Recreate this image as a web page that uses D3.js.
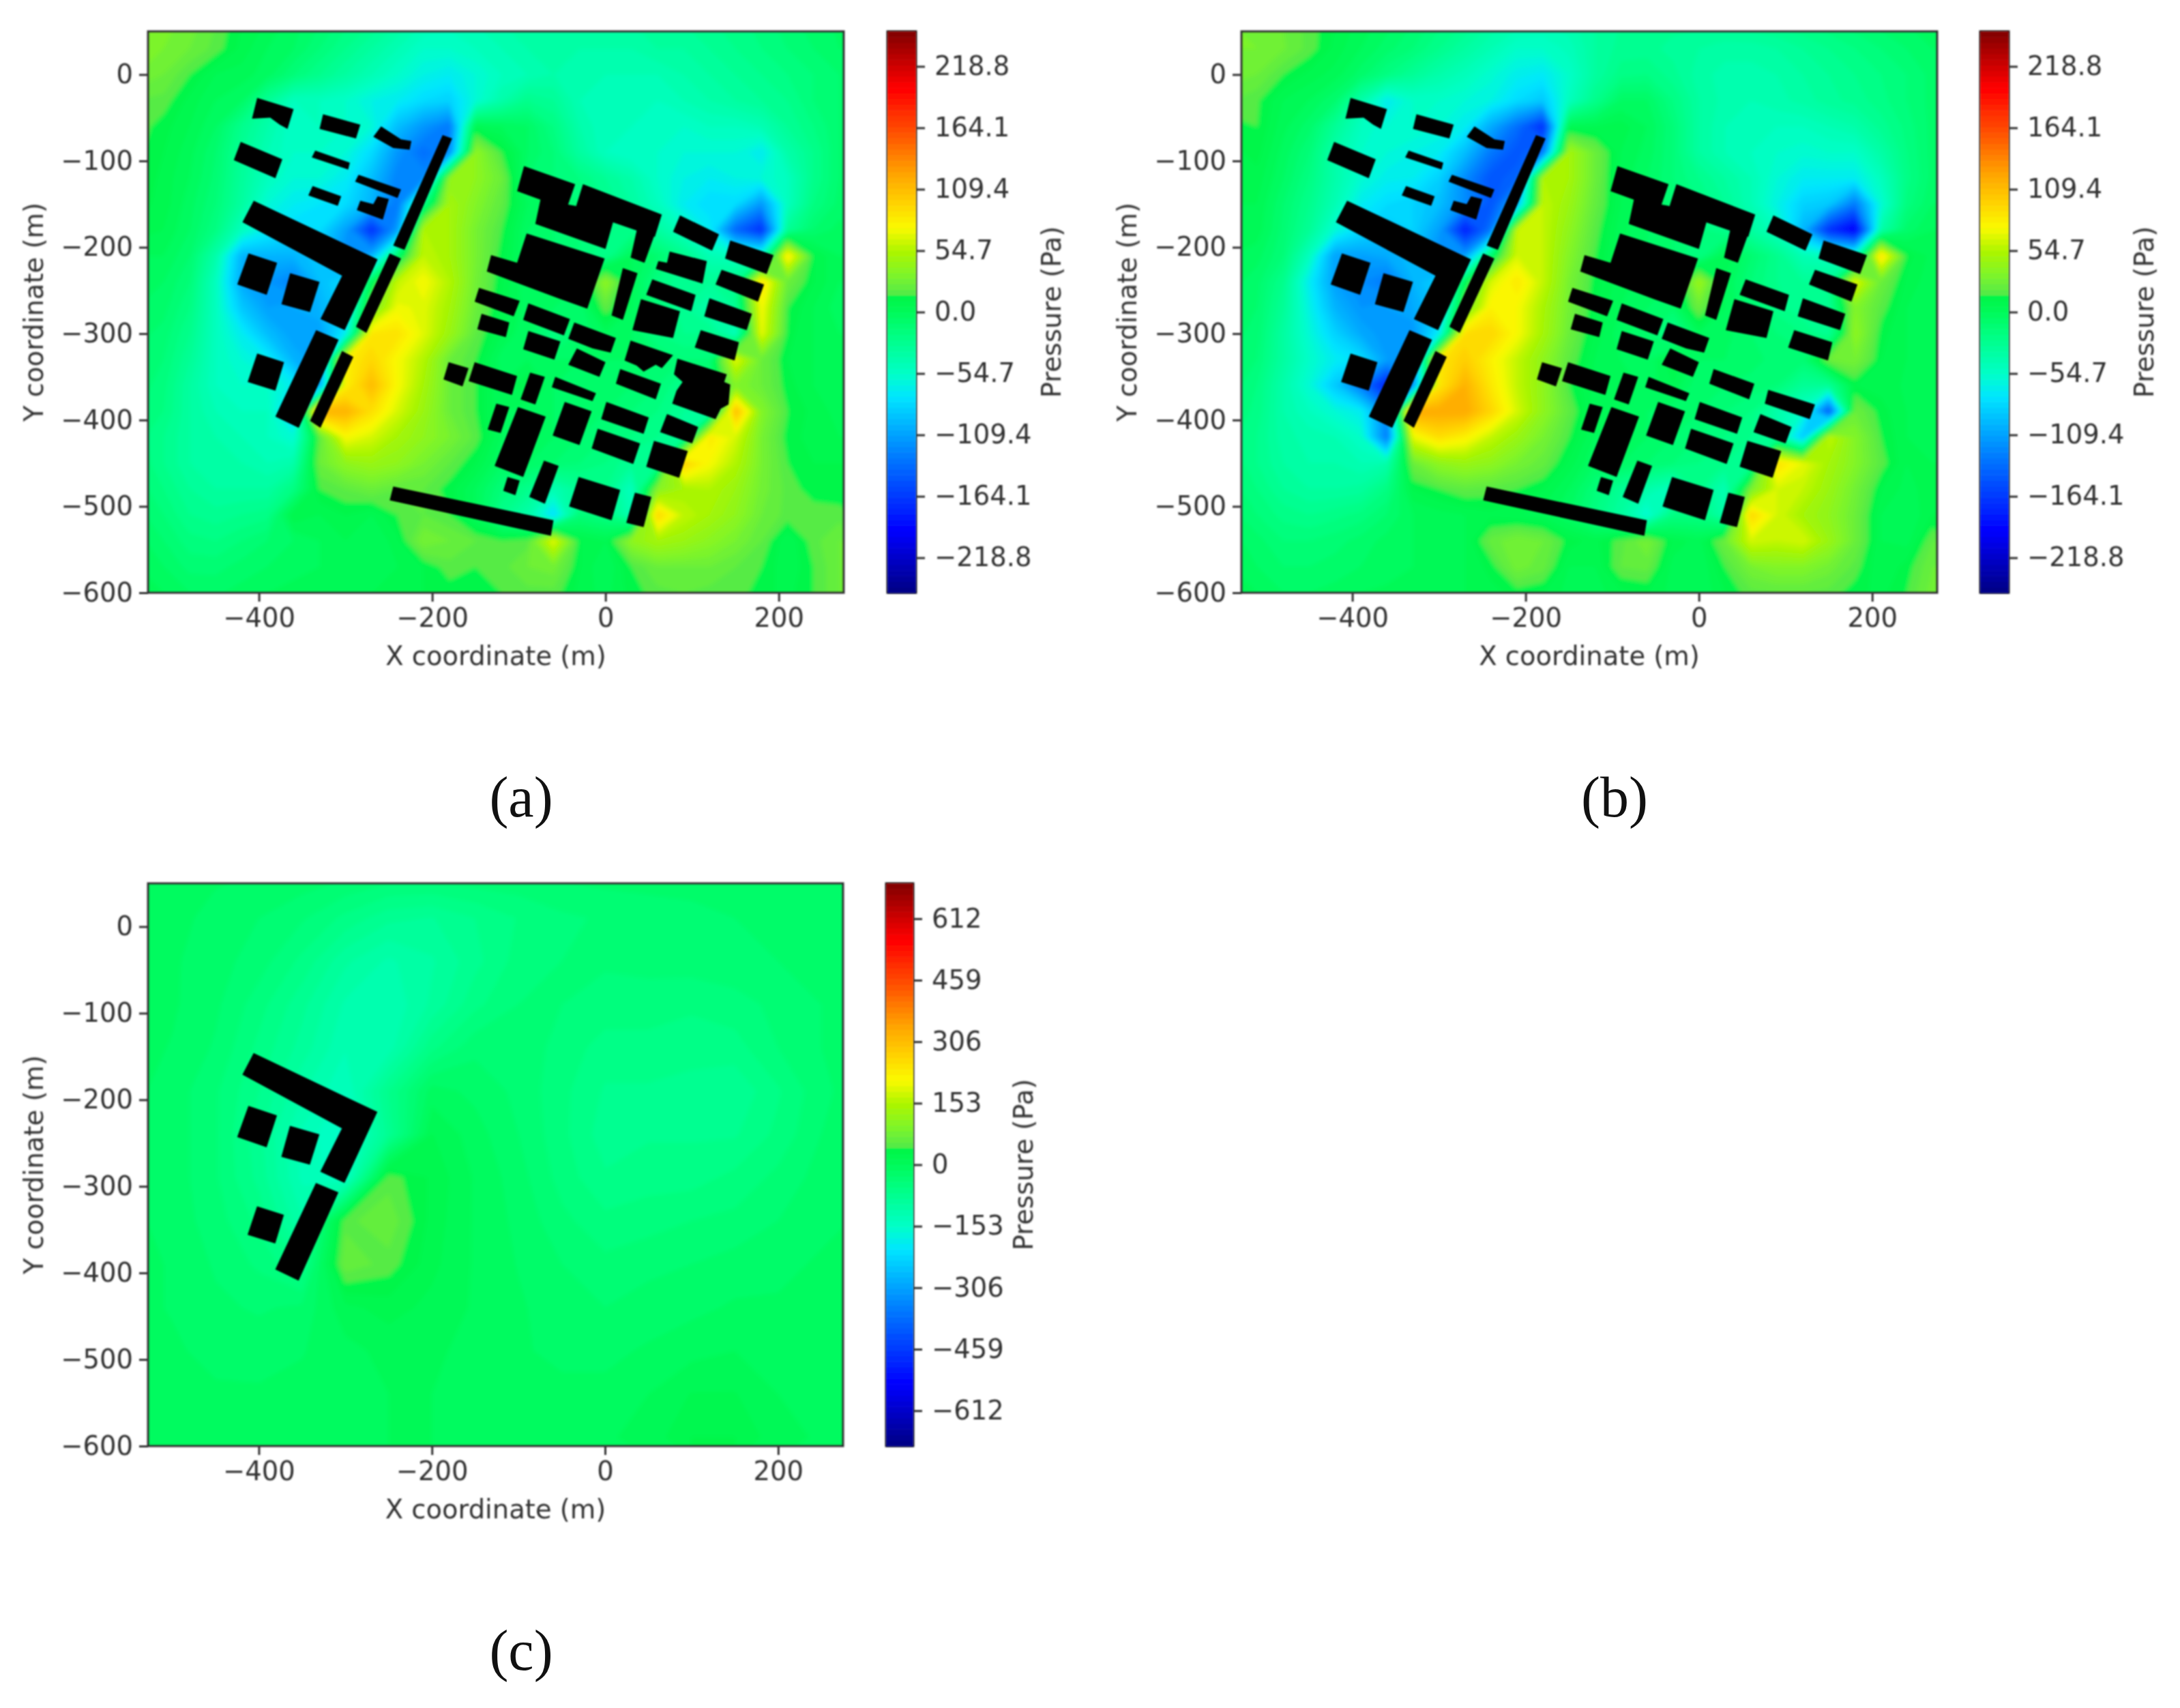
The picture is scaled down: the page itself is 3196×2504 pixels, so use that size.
<!DOCTYPE html>
<html><head><meta charset="utf-8">
<script src="https://d3js.org/d3.v7.min.js"></script>
<style>html,body{margin:0;padding:0;background:#fff}svg{display:block}</style>
</head><body><div id="chart"></div>
<script>
// ---- tick labels and ranges ----
const xTicks=[-400,-200,0,200], yTicks=[0,-100,-200,-300,-400,-500,-600];
const xDomain=[-528,275], yDomain=[-600,50];
const cbTicksAB=[218.8,164.1,109.4,54.7,0,-54.7,-109.4,-164.1,-218.8];
const cbTicksC=[612,459,306,153,0,-153,-306,-459,-612];
const captions=["(a)","(b)","(c)"];
// ---- colour stops (Pa at +/-250 scale) ----
const cmapVals=[-250,-195,-130,-75,-55,-20,0,15,17,35,55,75,100,125,160,200,250];
const cmapCols=["#000082","#0000ff","#0078ff","#00e6ff","#00ffc8","#00ff82","#00fa5a","#00f546","#55eb46","#82f528","#aff500","#fafa00","#ffcd00","#ffa000","#ff5000","#ff0000","#800000"];
// ---- pressure grids: columns every 30 m from x=-540, rows every 30 m from y=60 ----
const fieldA=[
[32,32,28,20,10,4,-3,-10,-18,-25,-35,-45,-48,-45,-40,-35,-35,-35,-35,-35,-32,-30,-26,-22,-18,-12,-8,-4],
[35,30,25,18,8,0,-5,-15,-25,-35,-45,-55,-55,-50,-45,-40,-40,-40,-40,-40,-35,-35,-30,-25,-20,-15,-10,-5],
[30,25,15,5,3,-3,-15,-25,-35,-45,-55,-65,-70,-60,-50,-45,-40,-45,-45,-45,-45,-40,-35,-30,-25,-20,-15,-10],
[20,18,8,0,-5,-30,-50,-50,-55,-65,-70,-80,-85,-60,-40,-25,-30,-45,-50,-50,-50,-45,-40,-35,-30,-25,-15,-10],
[18,12,5,-5,-25,-40,-55,-50,-55,-60,-95,-115,-130,5,0,-5,-20,-40,-50,-50,-55,-55,-50,-50,-45,-30,-20,-10],
[16,10,2,-10,-30,-45,-55,-55,-60,-80,-115,-135,-120,40,15,-5,-15,-35,-50,-55,-55,-60,-60,-60,-70,-40,-25,-10],
[15,8,0,-12,-32,-50,-60,-60,-70,-95,-125,-120,40,40,25,-10,-15,-20,-30,-40,-55,-65,-70,-65,-60,-50,-25,-10],
[12,8,-3,-15,-35,-60,-70,-75,-80,-100,-130,-20,50,35,20,0,-5,-15,-25,-35,-50,-70,-80,-80,-115,-50,-20,-8],
[8,5,-5,-20,-50,-70,-80,-80,-110,-170,-110,55,50,30,15,-5,-10,-15,-20,-25,-35,-50,-70,-140,-170,-30,-10,-3],
[0,0,-10,-40,-100,-100,-100,-90,-120,-100,-10,60,50,30,12,-5,-10,-15,-25,0,-10,-25,-45,-50,-50,85,10,0],
[-3,-5,-15,-50,-105,-115,-125,-95,-80,0,60,75,55,28,10,-5,-5,-5,40,0,-20,-30,-30,-25,90,25,10,0],
[-5,-8,-20,-50,-90,-110,-105,-100,-85,30,72,68,50,25,8,-3,-5,-10,20,0,-15,-30,-40,-30,75,15,5,-3],
[-8,-12,-25,-50,-70,-95,-110,-110,-70,85,88,68,45,20,5,-5,-20,-10,0,-5,-20,-25,-25,-50,70,12,5,0],
[-10,-15,-30,-50,-60,-70,-100,-110,80,95,75,55,25,15,-3,0,-5,-5,-5,-5,-10,-15,-15,70,25,10,5,0],
[-12,-18,-35,-50,-55,-55,-70,-110,80,110,75,50,25,15,0,10,-5,-10,-10,-10,-15,-25,-10,35,25,12,5,3],
[-15,-20,-35,-45,-50,-50,-90,115,115,90,65,45,25,15,0,-3,-5,-10,-10,-15,-20,-30,-45,110,35,15,8,3],
[-18,-25,-35,-40,-45,-50,-60,20,75,65,50,40,30,18,0,-5,-5,-10,-15,-20,-25,-35,85,65,30,12,8,5],
[-15,-25,-35,-40,-40,-45,-40,25,40,45,40,30,20,10,-5,-5,-10,-15,-20,-30,-30,100,75,55,30,15,10,10],
[-12,-20,-30,-35,-35,-35,-20,15,20,25,20,20,12,0,-15,-25,-45,-30,-25,-50,35,50,55,45,28,18,12,10],
[-8,-15,-25,-28,-25,-22,10,5,10,5,15,20,15,0,-25,-40,-80,-15,-20,-45,95,60,50,40,25,18,18,18],
[-3,-10,-18,-20,-15,-10,-5,0,5,0,8,30,25,20,15,18,70,10,5,40,50,45,38,30,20,5,18,25],
[0,-5,-12,-12,-8,-5,-2,0,2,3,5,10,18,15,18,25,28,10,0,15,25,25,25,20,15,5,15,25],
[3,0,-5,-6,-3,0,2,3,5,5,8,10,12,10,15,18,18,8,3,12,18,20,18,18,12,8,15,25]];
const fieldB=[
[30,28,25,18,10,3,-3,-10,-18,-25,-35,-42,-45,-42,-35,-30,-28,-28,-28,-28,-26,-24,-20,-16,-12,-8,-5,-3],
[30,30,26,18,8,0,-8,-15,-25,-35,-45,-55,-55,-48,-35,-28,-28,-32,-35,-38,-38,-35,-30,-25,-20,-15,-10,-5],
[28,25,15,8,3,-8,-20,-30,-40,-48,-58,-68,-72,-55,-35,-22,-20,-28,-38,-42,-42,-40,-35,-30,-25,-20,-15,-8],
[20,16,5,0,-10,-40,-70,-55,-55,-60,-65,-80,-90,-50,-25,-5,-5,-20,-35,-42,-45,-42,-38,-32,-28,-22,-15,-8],
[12,15,2,-8,-30,-50,-60,-55,-60,-70,-105,-135,-170,3,5,8,0,-15,-35,-45,-50,-50,-50,-45,-40,-28,-18,-8],
[8,12,-2,-15,-40,-55,-60,-65,-70,-95,-130,-150,-130,50,25,5,-2,-15,-35,-45,-50,-55,-58,-55,-55,-38,-20,-8],
[6,8,-5,-20,-40,-58,-68,-70,-85,-120,-150,-140,55,50,25,3,-5,-15,-25,-35,-45,-60,-70,-70,-70,-50,-22,-8],
[5,5,-10,-25,-45,-70,-80,-85,-95,-120,-150,-100,60,45,22,5,-5,-12,-20,-30,-45,-65,-85,-90,-130,-60,-18,-5],
[3,3,-12,-30,-60,-80,-90,-85,-110,-180,-130,60,60,40,18,2,-5,-10,-18,-25,-35,-50,-100,-170,-200,-40,-8,0],
[0,-3,-15,-50,-110,-110,-105,-95,-120,-110,-10,65,60,35,15,2,-5,-10,-20,5,-10,-25,-45,-50,-50,90,12,3],
[-3,-8,-25,-70,-110,-120,-130,-100,-85,0,65,85,60,30,12,2,-3,-5,45,0,-15,-25,-30,-28,70,25,8,2],
[-5,-10,-30,-65,-100,-115,-110,-105,-90,30,80,75,52,28,10,0,-5,-8,25,0,-12,-22,-30,-28,35,18,5,2],
[-8,-12,-35,-60,-85,-105,-115,-115,-70,90,95,75,50,25,8,-3,-10,-25,0,-3,-10,-15,-20,-30,40,12,5,2],
[-10,-15,-35,-55,-70,-80,-110,-115,85,100,80,60,40,20,5,0,-5,10,-5,-5,-8,-12,-12,25,30,10,5,2],
[-12,-20,-40,-60,-90,-130,-180,-120,85,115,85,60,40,15,3,5,-3,5,-10,-10,-12,-15,-30,-30,10,8,4,2],
[-15,-22,-40,-50,-60,-70,-120,120,120,120,95,65,40,20,3,0,-5,-10,-10,-15,-20,-40,-55,-150,25,12,5,3],
[-18,-25,-38,-42,-45,-55,-130,70,90,80,60,45,30,15,0,-5,-5,-10,-15,-20,-25,-35,-90,60,35,15,5,3],
[-15,-25,-35,-40,-40,-45,-40,25,40,45,40,30,22,8,-5,-5,-10,-15,-20,-25,-30,90,70,50,35,18,5,5],
[-12,-20,-30,-35,-35,-33,-20,10,15,20,18,15,10,0,-15,-30,-40,-50,-25,-45,30,65,60,45,28,10,3,8],
[-8,-15,-22,-25,-22,-18,-10,0,3,5,8,5,3,-5,-20,-35,-60,-20,-20,-40,95,65,50,40,25,5,0,10],
[-3,-8,-15,-15,-12,-8,-3,0,2,5,22,30,25,12,8,18,30,8,3,25,65,60,65,45,25,5,3,20],
[0,-5,-10,-10,-8,-5,-2,0,2,5,12,28,22,5,5,20,22,3,0,15,30,35,35,28,18,5,12,25],
[2,0,-5,-5,-3,0,1,2,3,5,8,12,10,3,3,8,10,3,0,10,18,20,20,18,12,8,15,28]];
// panel (c): columns every 50 m from x=-550, rows every 50 m from y=60
const fieldC=[
[-5,-8,-12,-15,-18,-25,-32,-32,-30,-30,-25,-22,-22,-22,-18,-18,-15,-12],
[-5,-10,-18,-28,-40,-60,-80,-85,-70,-55,-45,-40,-35,-32,-28,-22,-18,-15],
[-5,-12,-22,-35,-60,-95,-115,-100,-75,-50,-42,-40,-38,-36,-32,-28,-22,-18],
[-8,-12,-25,-50,-80,-115,-125,-95,-60,-42,-42,-48,-48,-52,-48,-38,-28,-18],
[-8,-15,-30,-60,-90,-125,-120,-60,-32,-32,-48,-62,-62,-68,-62,-42,-28,-18],
[-10,-20,-40,-70,-110,-140,-70,-8,-18,-32,-52,-72,-72,-72,-82,-58,-32,-18],
[-10,-20,-40,-80,-130,-160,-80,15,-8,-28,-52,-78,-72,-72,-72,-52,-28,-18],
[-10,-20,-40,-75,-130,-150,50,25,-2,-22,-48,-68,-62,-62,-52,-38,-22,-15],
[-10,-20,-35,-60,-110,52,66,22,-2,-18,-38,-52,-48,-42,-38,-28,-18,-12],
[-10,-15,-30,-45,-70,66,50,18,-2,-15,-28,-38,-32,-28,-22,-18,-12,-10],
[-10,-15,-25,-30,-25,10,20,10,-2,-12,-22,-28,-22,-18,-12,-12,-12,-10],
[-10,-12,-18,-20,-15,-5,5,3,-5,-12,-18,-18,-12,-5,0,-8,-10,-10],
[-8,-10,-12,-12,-10,-5,0,0,-5,-10,-10,-10,0,15,15,0,-8,-10],
[-5,-8,-8,-8,-5,-3,0,0,-2,-5,-5,-2,5,28,28,5,-2,-5]];
// ---- building footprints, corners in metres ----
const westBlocks=[
[[-326,-46],[-283,-58],[-288,-74],[-330,-63]],
[[-402,-27],[-360,-40],[-367,-63],[-376,-58],[-387,-50],[-408,-51]],
[[-259,-60],[-236,-75],[-224,-77],[-226,-87],[-245,-85],[-268,-72]],
[[-429,-99],[-421,-78],[-373,-98],[-381,-120]],
[[-339,-96],[-335,-88],[-295,-102],[-297,-110]],
[[-289,-124],[-285,-116],[-236,-133],[-240,-143]],
[[-343,-140],[-338,-129],[-305,-141],[-309,-152]],
[[-283,-146],[-268,-150],[-263,-141],[-250,-144],[-257,-168],[-287,-157]],
];
const wallTop=[[-188,-70],[-177,-74],[-232,-203],[-245,-198]];
const wallMid=[[-249,-207],[-236,-213],[-276,-299],[-288,-292]];
const wallLow=[[-304,-320],[-291,-327],[-329,-409],[-341,-401]];
const courtL=[[-406,-146],[-263,-214],[-301,-296],[-329,-283],[-304,-233],[-419,-171]];
const courtSquareA=[[-412,-207],[-379,-218],[-391,-255],[-425,-243]];
const courtSquareB=[[-364,-230],[-330,-240],[-341,-275],[-374,-266]];
const courtSquareC=[[-402,-323],[-371,-333],[-381,-366],[-413,-356]];
const courtBar=[[-334,-296],[-308,-307],[-354,-409],[-381,-396]];
const eastBlocks=[
[[-94,-106],[-35,-127],[-45,-156],[-102,-135]],
[[-74,-140],[-46,-150],[-35,-152],[9,-170],[0,-202],[-81,-173]],
[[-26,-127],[65,-162],[57,-188],[-35,-156]],
[[37,-176],[59,-179],[45,-218],[29,-212]],
[[-91,-184],[-1,-213],[-21,-271],[-52,-260],[-137,-228],[-132,-209],[-102,-218]],
[[20,-224],[37,-230],[20,-284],[7,-279]],
[[86,-163],[131,-185],[123,-204],[78,-182]],
[[144,-192],[194,-209],[186,-231],[138,-213]],
[[134,-226],[183,-243],[176,-263],[127,-243]],
[[120,-259],[169,-277],[163,-296],[114,-280]],
[[110,-296],[154,-310],[149,-331],[103,-316]],
[[54,-237],[104,-255],[99,-274],[47,-255]],
[[41,-260],[86,-274],[78,-305],[31,-296]],
[[-146,-247],[-99,-262],[-106,-280],[-151,-263]],
[[-143,-277],[-111,-287],[-115,-304],[-148,-295]],
[[-89,-265],[-41,-283],[-48,-302],[-95,-284]],
[[-89,-297],[-52,-309],[-59,-330],[-95,-318]],
[[-36,-287],[12,-305],[6,-322],[-15,-317],[-43,-306]],
[[-33,-317],[0,-333],[-7,-350],[-43,-336]],
[[-181,-333],[-158,-340],[-165,-361],[-187,-353]],
[[-151,-333],[-102,-349],[-108,-371],[-158,-355]],
[[-87,-345],[-70,-350],[-81,-382],[-98,-376]],
[[-58,-350],[-11,-369],[-15,-378],[-62,-362]],
[[17,-341],[64,-358],[58,-376],[12,-358]],
[[-126,-381],[-111,-385],[-121,-415],[-136,-411]],
[[-101,-385],[-69,-396],[-95,-466],[-128,-453]],
[[-47,-379],[-16,-390],[-30,-429],[-61,-418]],
[[1,-379],[50,-397],[44,-416],[-5,-399]],
[[71,-393],[107,-408],[100,-427],[63,-414]],
[[-9,-410],[40,-427],[32,-451],[-16,-433]],
[[56,-424],[95,-436],[85,-467],[47,-454]],
[[-113,-466],[-99,-470],[-104,-487],[-118,-482]],
[[-71,-447],[-54,-453],[-70,-497],[-88,-489]],
[[-31,-466],[17,-481],[7,-516],[-42,-500]],
[[34,-484],[53,-489],[44,-524],[24,-519]],
[[-245,-477],[-60,-516],[-63,-534],[-249,-493]],
];
const onlyInA=[
[[74,-205],[117,-216],[112,-242],[58,-225],[61,-216],[71,-218]],
[[29,-308],[78,-325],[65,-340],[58,-336],[44,-344],[36,-337],[22,-331]],
[[83,-329],[140,-347],[137,-356],[144,-359],[142,-382],[133,-387],[127,-399],[77,-381],[82,-366],[89,-356],[79,-347]],
];
const onlyInB=[[[80,-365],[134,-382],[128,-399],[76,-381]]];
const courtyard=[courtL,courtSquareA,courtSquareB,courtSquareC,courtBar];
const shared=[...westBlocks,wallTop,wallMid,wallLow,...courtyard,...eastBlocks];
const buildingsA=[...shared,...onlyInA], buildingsB=[...shared,...onlyInB], buildingsC=courtyard;

const W=3196,H=2504;
const svg=d3.select("#chart").append("svg").attr("width",W).attr("height",H).attr("viewBox",`0 0 ${W} ${H}`).style("font-family","'DejaVu Sans'");
const defs=svg.append("defs");
[["blurField",3],["blurSoft",1.3],["blurText",0.8]].forEach(([id,s])=>{
  defs.append("filter").attr("id",id).attr("x","-5%").attr("y","-5%").attr("width","110%").attr("height","110%")
    .append("feGaussianBlur").attr("stdDeviation",s);
});
const ink="#333", fontSize=38.5;
const cmap=d3.scaleLinear().domain(cmapVals).range(cmapCols).interpolate(d3.interpolateRgb).clamp(true);

const panels=[
 {id:"a",field:fieldA,x0:-540,y0:60,step:30,range:250,levelStep:5,blds:buildingsA,cb:cbTicksAB,cbFmt:d3.format(".1f"),
  l:217,r:1237,t:46,b:869,cl:1301,cr:1343,labX:1544,capX:764,capY:1168},
 {id:"b",field:fieldB,x0:-540,y0:60,step:30,range:250,levelStep:5,blds:buildingsB,cb:cbTicksAB,cbFmt:d3.format(".1f"),
  l:1820,r:2840,t:46,b:869,cl:2903,cr:2945,labX:3146,capX:2367,capY:1168},
 {id:"c",field:fieldC,x0:-550,y0:60,step:50,range:700,levelStep:14,blds:buildingsC,cb:cbTicksC,cbFmt:d3.format("d"),
  l:217,r:1236,t:1295,b:2120,cl:1299,cr:1339,labX:1503,capX:764,capY:2419}
];
panels.forEach((p,pi)=>{
  const x=d3.scaleLinear().domain(xDomain).range([p.l,p.r]);
  const y=d3.scaleLinear().domain(yDomain).range([p.b,p.t]);
  const g=svg.append("g");
  const clipId="clip-"+p.id;
  defs.append("clipPath").attr("id",clipId).append("rect").attr("x",p.l).attr("y",p.t).attr("width",p.r-p.l).attr("height",p.b-p.t);
  const rows=p.field.length, cols=p.field[0].length;
  const flat=p.field.flat();
  const levels=d3.range(-p.range,p.range,p.levelStep);
  const k=250/p.range;
  const contours=d3.contours().size([cols,rows]).smooth(true).thresholds(levels)(flat);
  const proj=d3.geoTransform({point(gx,gy){
     this.stream.point(x(p.x0+(gx-0.5)*p.step), y(p.y0-(gy-0.5)*p.step));
  }});
  const path=d3.geoPath(proj);
  const clipG=g.append("g").attr("clip-path",`url(#${clipId})`);
  const fieldG=clipG.append("g").attr("filter","url(#blurField)");
  fieldG.selectAll("path").data(contours).join("path")
    .attr("d",path)
    .attr("fill",d=>cmap((d.value+p.levelStep/2)*k))
    .attr("stroke",d=>cmap((d.value+p.levelStep/2)*k)).attr("stroke-width",0.6);
  const line=d3.line().x(d=>x(d[0])).y(d=>y(d[1])).curve(d3.curveLinearClosed);
  clipG.append("g").attr("filter","url(#blurSoft)").selectAll("path").data(p.blds).join("path")
    .attr("d",line).attr("fill","#000");
  const fg=g.append("g").attr("filter","url(#blurText)");
  fg.append("rect").attr("x",p.l).attr("y",p.t).attr("width",p.r-p.l).attr("height",p.b-p.t)
    .attr("fill","none").attr("stroke",ink).attr("stroke-width",3);
  const styleAxis=s=>{s.select(".domain").remove();
    s.selectAll(".tick line").attr("stroke",ink).attr("stroke-width",3);
    s.selectAll(".tick text").attr("fill",ink).style("font-size",fontSize+"px").style("font-family","'DejaVu Sans'");};
  fg.append("g").attr("transform",`translate(0,${p.b})`)
    .call(d3.axisBottom(x).tickValues(xTicks).tickSize(13).tickPadding(10)).call(styleAxis);
  fg.append("g").attr("transform",`translate(${p.l},0)`)
    .call(d3.axisLeft(y).tickValues(yTicks).tickSize(13).tickPadding(9)).call(styleAxis);
  const midY=(p.t+p.b)/2, midX=(p.l+p.r)/2;
  fg.append("text").attr("x",midX).attr("y",p.b+106).attr("text-anchor","middle").attr("fill",ink)
    .style("font-size",fontSize+"px").text("X coordinate (m)");
  fg.append("text").attr("transform",`translate(${p.l-154},${midY}) rotate(-90)`).attr("text-anchor","middle").attr("fill",ink)
    .style("font-size",fontSize+"px").text("Y coordinate (m)");
  // colour bar
  const cy=d3.scaleLinear().domain([-p.range,p.range]).range([p.b,p.t]);
  g.append("g").attr("filter","url(#blurSoft)").selectAll("rect").data(levels).join("rect")
    .attr("x",p.cl).attr("width",p.cr-p.cl)
    .attr("y",d=>cy(d+p.levelStep)).attr("height",d=>cy(d)-cy(d+p.levelStep)+0.6)
    .attr("fill",d=>cmap((d+p.levelStep/2)*k));
  fg.append("rect").attr("x",p.cl).attr("y",p.t).attr("width",p.cr-p.cl).attr("height",p.b-p.t)
    .attr("fill","none").attr("stroke",ink).attr("stroke-width",3);
  fg.append("g").attr("transform",`translate(${p.cr},0)`)
    .call(d3.axisRight(cy).tickValues(p.cb).tickFormat(p.cbFmt).tickSize(13).tickPadding(14)).call(styleAxis);
  fg.append("text").attr("transform",`translate(${p.labX},${midY}) rotate(-90)`).attr("text-anchor","middle")
    .attr("dominant-baseline","middle").attr("fill",ink).style("font-size",fontSize+"px").text("Pressure (Pa)");
  svg.append("text").attr("x",p.capX).attr("y",p.capY).attr("text-anchor","middle").attr("dominant-baseline","central")
    .attr("fill","#111").style("font-family","'Liberation Serif'").style("font-size","84px").text(captions[pi]);
});
</script></body></html>
